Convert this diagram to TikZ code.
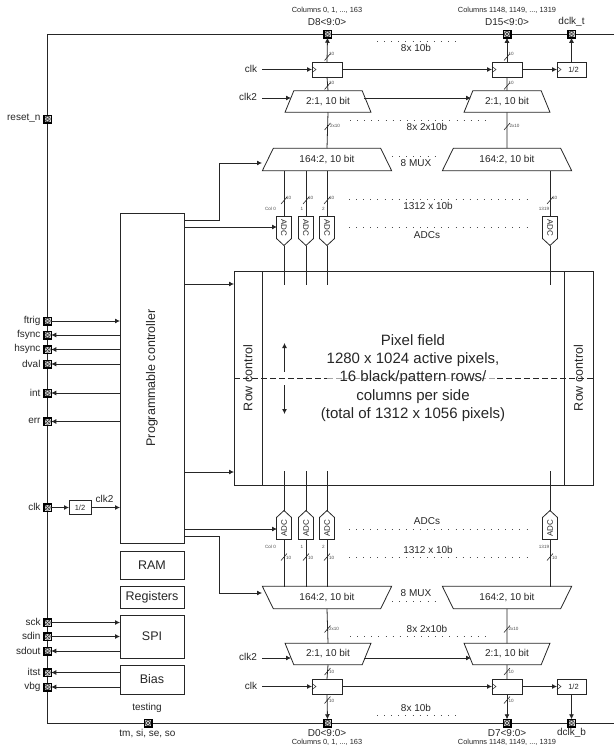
\documentclass[tikz,border=0pt]{standalone}
\usepackage{fontspec}
\setmainfont{Liberation Sans}
\usetikzlibrary{arrows.meta,shapes.geometric,shapes.symbols,calc}
\definecolor{ink}{gray}{0.15}
\tikzset{
  x=1pt,y=-1pt,
  every node/.style={text=ink,inner sep=0pt,outer sep=0pt},
  wire/.style={draw=ink,line width=0.8pt},
  arr/.style={wire,-{Latex[length=5pt,width=5pt]}},
  boxn/.style={draw=ink,line width=0.8pt,font=\fontsize{12.5}{15}\selectfont,align=center},
  pad/.style={rectangle,draw=black,line width=1.5pt,fill=black!12,minimum size=7.5pt,
    path picture={
      \draw[line width=0.5pt,black!80] (path picture bounding box.center) circle[radius=2.8pt];
      \draw[line width=0.5pt,black!80] ([shift={(-2.2pt,-2.2pt)}]path picture bounding box.center) -- ([shift={(2.2pt,2.2pt)}]path picture bounding box.center);
      \draw[line width=0.5pt,black!80] ([shift={(-2.2pt,2.2pt)}]path picture bounding box.center) -- ([shift={(2.2pt,-2.2pt)}]path picture bounding box.center);
    }},
  lab/.style={font=\fontsize{10}{12}\selectfont},
  cols/.style={font=\fontsize{7.4}{9}\selectfont},
  tiny/.style={font=\fontsize{4.6}{5}\selectfont,text=black!70},
  dots/.style={draw=black!70,line width=0.9pt,dash pattern=on 0.9pt off 6.2pt},
  fdash/.style={line width=0.8pt,dash pattern=on 6pt off 3pt},
  muxs/.style={trapezium,draw=ink,line width=0.8pt,trapezium stretches=true,lab,
    minimum width=86pt,minimum height=21.5pt,trapezium left angle=56.5,trapezium right angle=56.5},
  muxl/.style={trapezium,draw=ink,line width=0.8pt,trapezium stretches=true,lab,
    minimum width=130pt,minimum height=22.5pt,trapezium left angle=56.5,trapezium right angle=56.5},
  adc/.style={signal,signal to=east,signal pointer angle=94,draw=ink,line width=0.8pt,
    minimum width=29pt,minimum height=15pt,font=\fontsize{8}{9}\selectfont},
  ck/.style={draw=ink,line width=0.5pt},
}
% #1 name, #2 x1, #3 y1, #4 x2, #5 y2, #6 options, #7 text
\newcommand\bx[7]{\node[boxn,#6,minimum width={(#4-#2)*1pt},minimum height={(#5-#3)*1pt}] (#1) at ({(#2+#4)/2},{(#3+#5)/2}) {#7};}
% clocked register
\newcommand\clktri[1]{\draw[ck] ($(#1.west)+(0,-3)$) -- ($(#1.west)+(4,0)$) -- ($(#1.west)+(0,3)$);}
% bus slash: x, y, label x, label y, text
\newcommand\busm[5]{\draw[draw=ink,line width=0.6pt] ({#1-3},{#2+3.5}) -- ({#1+3},{#2-3.5});
  \node[tiny,anchor=west] at (#3,#4) {#5};}
\begin{document}
\begin{tikzpicture}
\useasboundingbox (0,0) rectangle (614,747);

% rails
\coordinate (tr) at (614,34);
\coordinate (br) at (614,723);
\coordinate (tl) at (47.5,34);
\coordinate (bl) at (47.5,723);
\draw[wire] (tr) -- (tl) -- (bl) -- (br);

% pixel field
\bx{field}{234}{271}{593}{485}{}{}
\bx{rcl}{234}{271}{262}{485}{}{\rotatebox{90}{Row control}}
\bx{rcr}{564}{271}{593}{485}{}{\rotatebox{90}{Row control}}
\coordinate (dl) at (234,378);
\coordinate (dm1) at (327,378);
\coordinate (dm2) at (497,378);
\coordinate (dr) at (593,378);
\draw[fdash,draw=ink] (dl) -- (dm1);
\draw[fdash,draw=black!35] (dm1) -- (dm2);
\draw[fdash,draw=ink] (dm2) -- (dr);
\node[font=\fontsize{15}{18.2}\selectfont,align=center] (ftxt) at (413,378) {Pixel field\\1280 x 1024 active pixels,\\16 black/pattern rows/\\columns per side\\(total of 1312 x 1056 pixels)};
\coordinate (ua) at (284.5,372); \coordinate (ub) at (284.5,343);
\coordinate (da) at (284.5,385); \coordinate (db) at (284.5,414);
\draw[arr] (ua) -- (ub);
\draw[arr] (da) -- (db);

% controller and side blocks
\bx{ctl}{120}{213}{184}{543}{}{\rotatebox{90}{Programmable controller}}
\bx{ram}{120}{551}{184}{579}{}{RAM}
\bx{regs}{120}{586}{184}{608}{}{Registers}
\bx{spi}{120}{615}{184}{658}{}{SPI}
\bx{bias}{120}{665}{184}{694}{}{Bias}

% top pads
\node[pad] (pD8) at (327.5,34) {};
\node[pad] (pD15) at (507,34) {};
\node[pad] (pTt) at (571.5,34) {};
\node[cols] at (327,10) {Columns 0, 1, ..., 163};
\node[cols] at (507,10) {Columns 1148, 1149, ..., 1319};
\node[lab] at (327,22) {D8<9:0>};
\node[lab] at (507,22) {D15<9:0>};
\node[lab] at (571.5,22) {dclk\_t};

% top registers
\bx{rT1}{312}{62}{342}{77}{}{}
\bx{rT2}{492}{62}{522}{77}{}{}
\bx{hT}{557}{62}{586}{77}{font=\fontsize{7.5}{9}\selectfont}{\hspace{4pt}1/2}
\clktri{rT1}\clktri{rT2}\clktri{hT}
\node[muxs] (mT1) at (328,101.5) {2:1, 10 bit};
\node[muxs] (mT2) at (507,101.5) {2:1, 10 bit};
\node[muxl] (MT1) at (327,159.5) {164:2, 10 bit};
\node[muxl] (MT2) at (507,159.5) {164:2, 10 bit};

\coordinate (cT) at (262,69.5);
\coordinate (c2T) at (262,98);
\node[lab,anchor=east] at (257,69) {clk};
\node[lab,anchor=east] at (257,97) {clk2};
\coordinate (m1r) at (364,98);
\coordinate (m1l) at (291,98);
\coordinate (m2l) at (471,98);
\draw[arr] (cT) -- (rT1.west);
\draw[arr] (rT1.east) -- (rT2.west);
\draw[arr] (rT2.east) -- (hT.west);
\draw[arr] (hT.north) -- (pTt.south);
\draw[arr] (c2T) -- (m1l);
\draw[arr] (m1r) -- (m2l);
\draw[arr] (rT1.north) -- (pD8.south);
\draw[arr] (rT2.north) -- (pD15.south);
\draw[wire] (mT1.north) -- (rT1.south);
\draw[wire] (mT2.north) -- (rT2.south);
\draw[wire] (MT1.north) -- (mT1.south);
\draw[wire] (MT2.north) -- (mT2.south);
\busm{327.5}{57}{329}{54}{10}
\busm{507}{57}{508.5}{54}{10}
\busm{327.5}{86}{329}{83}{10}
\busm{507}{86}{508.5}{83}{10}
\busm{327.5}{126.5}{330}{126}{2x10}
\busm{507}{126.5}{509.5}{126}{2x10}
\draw[dots] (377,41) -- (456,41);
\node[lab] at (416,48) {8x 10b};
\draw[dots] (350,120) -- (491,120);
\node[lab] at (427,127) {8x 2x10b};
\draw[dots] (392,156) -- (440,156);
\node[lab] at (416,163) {8 MUX};

% top ADCs
\foreach \n/\x in {1/284,2/306,3/327,4/550}{
  \node[adc,rotate=-90] (aT\n) at (\x,227.5) {ADC};
  \coordinate (tT\n) at (\x,171);
  \coordinate (fT\n) at (\x,285);
  \draw[wire] (tT\n) -- (aT\n.west);
  \draw[wire] (aT\n.east) -- (fT\n);
}
\busm{284}{200.5}{286}{198}{10}
\busm{306}{200.5}{308}{198}{10}
\busm{327}{200.5}{329}{198}{10}
\busm{550}{200.5}{552}{198}{10}
\node[tiny] at (270.5,209) {Col 0};
\node[tiny] at (302,209) {1};
\node[tiny] at (323.5,209) {2};
\node[tiny] at (544,209) {1319};
\draw[dots] (349,199) -- (529,199);
\node[lab] at (428,206) {1312 x 10b};
\draw[dots] (349,227) -- (529,227);
\node[lab] at (427,235) {ADCs};

% bottom ADCs
\foreach \n/\x in {1/284,2/306,3/327,4/550}{
  \node[adc,rotate=90] (aB\n) at (\x,528.5) {ADC};
  \coordinate (tB\n) at (\x,586.5);
  \coordinate (fB\n) at (\x,471);
  \draw[wire] (tB\n) -- (aB\n.west);
  \draw[wire] (aB\n.east) -- (fB\n);
}
\busm{284}{557}{286}{558}{10}
\busm{306}{557}{308}{558}{10}
\busm{327}{557}{329}{558}{10}
\busm{550}{557}{552}{558}{10}
\node[tiny] at (270.5,547) {Col 0};
\node[tiny] at (302,547) {1};
\node[tiny] at (323.5,547) {2};
\node[tiny] at (544,547) {1319};
\draw[dots] (349,557) -- (529,557);
\node[lab] at (428,550) {1312 x 10b};
\draw[dots] (349,529) -- (529,529);
\node[lab] at (427,521) {ADCs};

% bottom muxes
\node[muxl,shape border rotate=180] (MB1) at (327,597.5) {164:2, 10 bit};
\node[muxl,shape border rotate=180] (MB2) at (507,597.5) {164:2, 10 bit};
\node[muxs,shape border rotate=180] (mB1) at (328,654) {2:1, 10 bit};
\node[muxs,shape border rotate=180] (mB2) at (507,654) {2:1, 10 bit};
\draw[dots] (392,601) -- (440,601);
\node[lab] at (416,593) {8 MUX};
\draw[dots] (350,636) -- (491,636);
\node[lab] at (427,629) {8x 2x10b};
\draw[dots] (377,715) -- (456,715);
\node[lab] at (416,708) {8x 10b};

% bottom registers
\bx{rB1}{312}{679}{342}{694}{}{}
\bx{rB2}{492}{679}{522}{694}{}{}
\bx{hB}{557}{679}{586}{694}{font=\fontsize{7.5}{9}\selectfont}{\hspace{4pt}1/2}
\clktri{rB1}\clktri{rB2}\clktri{hB}
\node[pad] (pD0) at (327.5,723) {};
\node[pad] (pD7) at (507,723) {};
\node[pad] (pTb) at (571.5,723) {};
\node[lab] at (327,733) {D0<9:0>};
\node[lab] at (507,733) {D7<9:0>};
\node[lab] at (571.5,733) {dclk\_b};
\node[cols] at (327,742) {Columns 0, 1, ..., 163};
\node[cols] at (507,742) {Columns 1148, 1149, ..., 1319};
\coordinate (cB) at (262,686.5);
\coordinate (c2B) at (262,658);
\node[lab,anchor=east] at (257,686) {clk};
\node[lab,anchor=east] at (257,657) {clk2};
\coordinate (n1r) at (364,658);
\coordinate (n1l) at (291,658);
\coordinate (n2l) at (471,658);
\draw[arr] (cB) -- (rB1.west);
\draw[arr] (rB1.east) -- (rB2.west);
\draw[arr] (rB2.east) -- (hB.west);
\draw[arr] (hB.south) -- (pTb.north);
\draw[arr] (c2B) -- (n1l);
\draw[arr] (n1r) -- (n2l);
\draw[arr] (rB1.south) -- (pD0.north);
\draw[arr] (rB2.south) -- (pD7.north);
\draw[wire] (mB1.south) -- (rB1.north);
\draw[wire] (mB2.south) -- (rB2.north);
\draw[wire] (MB1.south) -- (mB1.north);
\draw[wire] (MB2.south) -- (mB2.north);
\busm{327.5}{629}{329}{629}{2x10}
\busm{507}{629}{508.5}{629}{2x10}
\busm{327.5}{671.5}{329}{672}{10}
\busm{507}{671.5}{508.5}{672}{10}
\busm{327.5}{700}{329}{701}{10}
\busm{507}{700}{508.5}{701}{10}

% controller to field / muxes
\coordinate (a1) at (262,163);
\coordinate (a2) at (262,593);
\draw[arr] (ctl.east |- 0,220.5) -- (219,220.5) -- (219,163) -- (a1);
\draw[arr] (ctl.east |- 0,227) -- (277,227);
\draw[arr] (ctl.east |- 0,284) -- (field.west |- 0,284);
\draw[arr] (ctl.east |- 0,472) -- (field.west |- 0,472);
\draw[arr] (ctl.east |- 0,529) -- (277,529);
\draw[arr] (ctl.east |- 0,536) -- (219,536) -- (219,593) -- (a2);

% left pads
\foreach \nm/\tx/\y in {pr/reset\_n/119,pft/ftrig/321,pfs/fsync/335,phs/hsync/349.5,pdv/dval/364,pin/int/393,per/err/421.5,pck/clk/507.5,psc/sck/622.5,psd/sdin/636.5,pso/sdout/651,pit/itst/672.5,pvb/vbg/687}{
  \node[pad] (\nm) at (47.5,\y) {};
  \node[lab,anchor=east] at (40.5,{\y-0.5}) {\tx};
}
\draw[arr] (pft.east) -- (ctl.west |- pft);
\draw[arr] (ctl.west |- pfs) -- (pfs.east);
\draw[arr] (ctl.west |- phs) -- (phs.east);
\draw[arr] (ctl.west |- pdv) -- (pdv.east);
\draw[arr] (ctl.west |- pin) -- (pin.east);
\draw[arr] (ctl.west |- per) -- (per.east);
\bx{hL}{69}{500.5}{91}{514.5}{font=\fontsize{7.5}{9}\selectfont}{1/2}
\draw[arr] (pck.east) -- (hL.west);
\draw[arr] (hL.east) -- (ctl.west |- hL);
\node[lab] at (104.5,499) {clk2};
\draw[arr] (psc.east) -- (spi.west |- psc);
\draw[arr] (psd.east) -- (spi.west |- psd);
\draw[arr] (spi.west |- pso) -- (pso.east);
\draw[arr] (bias.west |- pit) -- (pit.east);
\draw[arr] (bias.west |- pvb) -- (pvb.east);
\node[pad] (pts) at (148,723) {};
\node[lab] at (147,708) {testing};
\node[lab] at (147.5,733.5) {tm, si, se, so};
\end{tikzpicture}
\end{document}
